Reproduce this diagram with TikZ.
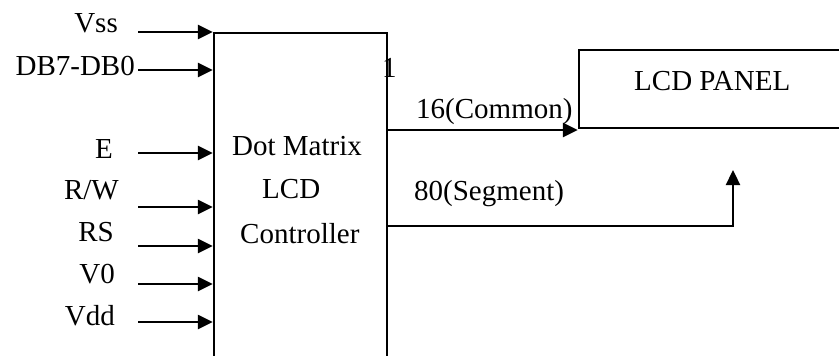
\documentclass[tikz,border=0pt]{standalone}
\usepackage{fontspec}
\setmainfont{Liberation Serif}
\usetikzlibrary{arrows.meta}
\begin{document}
\begin{tikzpicture}[x=1pt,y=-1pt,
  lbl/.style={inner sep=0pt,anchor=base west,font=\fontsize{29}{31}\selectfont},
  inlbl/.style={lbl,anchor=base east},
  wire/.style={line width=2.3pt},
  arr/.style={wire,-{Triangle[length=15pt,width=14pt]}},
  box/.style={draw,line width=2.3pt,rectangle,inner sep=0pt}]
\useasboundingbox (0,0) rectangle (839,356);
\clip (0,0) rectangle (839,356);
% stray glyph partly behind the controller border
\node[lbl] (one) at (382,77) {1};
% controller box (bottom runs off the picture)
\node[box,minimum width=173pt,minimum height=347pt] (ctrl) at (300.5,206.5) {};
% LCD panel (right side runs off the picture)
\node[box,minimum width=281pt,minimum height=78pt] (panel) at (719.5,89) {};
% controller text
\node[lbl] (t1) at (232,155.7) {Dot Matrix};
\node[lbl] (t2) at (262,198) {LCD};
\node[lbl] (t3) at (240,243) {Controller};
\node[lbl] (pt) at (634,90) {LCD PANEL};
% input labels
\node[inlbl] (lvss) at (118,32) {Vss};
\node[inlbl] (ldb) at (135,75) {DB7-DB0};
\node[inlbl] (le) at (113,158.3) {E};
\node[inlbl] (lrw) at (119,199) {R/W};
\node[inlbl] (lrs) at (114,241.7) {RS};
\node[inlbl] (lv0) at (115,283.3) {V0};
\node[inlbl] (lvdd) at (115,325) {Vdd};
% input arrow start points
\coordinate (svss) at (138,32);
\coordinate (sdb) at (138,70);
\coordinate (se) at (138,153);
\coordinate (srw) at (138,207);
\coordinate (srs) at (138,246);
\coordinate (sv0) at (138,284);
\coordinate (svdd) at (138,322);
\foreach \s in {svss,sdb,se,srw,srs,sv0,svdd}
  \draw[arr] (\s) -- (ctrl.west |- \s);
% outputs
\coordinate (com) at (387,130);
\draw[arr] (ctrl.east |- com) -- (panel.west |- com);
\node[lbl] (lcom) at (416,118) {16(Common)};
\coordinate (seg) at (387,225.7);
\coordinate (segtip) at (733,170);
\draw[arr] (ctrl.east |- seg) -- (segtip |- seg) -- (segtip);
\node[lbl] (lseg) at (414,200) {80(Segment)};
\end{tikzpicture}
\end{document}
